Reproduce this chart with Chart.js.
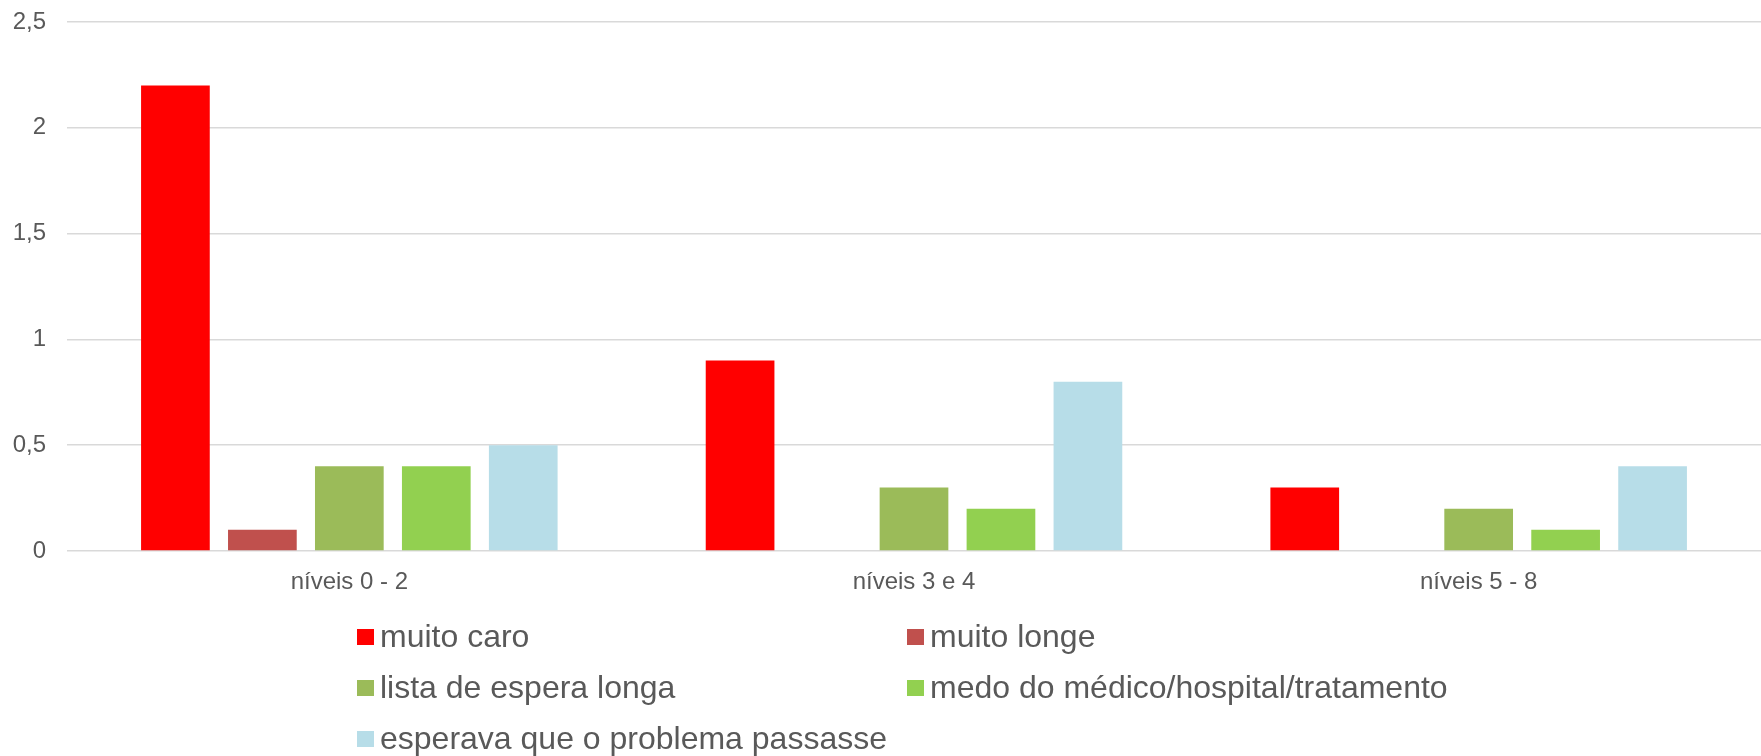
<!DOCTYPE html>
<html>
<head>
<meta charset="utf-8">
<script src="https://cdn.jsdelivr.net/npm/chart.js@4.4.1/dist/chart.umd.min.js"></script>
<style>
    html, body { margin: 0; padding: 0; background: #fff; }
    #wrap { position: relative; width: 1761px; height: 756px; }
    #legend {
        position: absolute; left: 357px; top: 611px;
        display: grid; grid-template-columns: 550px 550px; grid-auto-rows: 51px;
        font-family: "Liberation Sans", Arial, sans-serif; font-size: 32px; color: #595959;
    }
    .item { display: flex; align-items: center; white-space: nowrap; }
    .box { width: 17px; height: 16px; margin-right: 6px; flex: none; }
</style>
</head>
<body>
<div id="wrap">
    <canvas id="chart" width="1761" height="756"></canvas>
    <div id="legend"></div>
</div>
<script>
// --- DATA ---
const categories = ['níveis 0 - 2', 'níveis 3 e 4', 'níveis 5 - 8'];
const muitoCaro = [2.2, 0.9, 0.3];
const muitoLonge = [0.1, 0, 0];
const listaEspera = [0.4, 0.3, 0.2];
const medoMedico = [0.4, 0.2, 0.1];
const esperavaPassasse = [0.5, 0.8, 0.4];
const yTickLabels = ['0', '0,5', '1', '1,5', '2', '2,5'];

const series = [
    { label: 'muito caro', data: muitoCaro, color: '#FF0000' },
    { label: 'muito longe', data: muitoLonge, color: '#C0504D' },
    { label: 'lista de espera longa', data: listaEspera, color: '#9BBB59' },
    { label: 'medo do médico/hospital/tratamento', data: medoMedico, color: '#92D050' },
    { label: 'esperava que o problema passasse', data: esperavaPassasse, color: '#B7DDE8' }
];

const FONT = '"Liberation Sans", Arial, sans-serif';
const GRID = '#d9d9d9';

const chart = new Chart(document.getElementById('chart'), {
    type: 'bar',
    data: {
        labels: categories,
        datasets: series.map(s => ({
            label: s.label,
            data: s.data,
            backgroundColor: s.color,
            borderWidth: 0,
            categoryPercentage: 0.77,
            barPercentage: 0.79
        }))
    },
    options: {
        responsive: false,
        animation: false,
        layout: { padding: 0 },
        plugins: {
            legend: { display: false },
            tooltip: { enabled: false }
        },
        scales: {
            x: {
                grid: { display: false, drawTicks: false },
                border: { display: false },
                ticks: { color: '#595959', font: { family: FONT, size: 24 }, padding: 17 },
                // fixed height: plot bottom at y~551, rest is room for the legend
                afterFit: s => { s.height = 205; }
            },
            y: {
                min: 0,
                max: 2.5,
                grid: { color: GRID, lineWidth: 1.5, drawTicks: false },
                border: { display: false },
                ticks: {
                    stepSize: 0.5,
                    padding: 21,
                    color: '#595959',
                    font: { family: FONT, size: 24 },
                    callback: (v, i) => yTickLabels[i]
                },
                afterFit: s => { s.width = 67; s.paddingTop = 22; }
            }
        }
    }
});

// Legend (two columns like the original)
document.getElementById('legend').innerHTML = chart.data.datasets.map(d =>
    `<div class="item"><span class="box" style="background:${d.backgroundColor}"></span>${d.label}</div>`
).join('');
</script>
</body>
</html>
